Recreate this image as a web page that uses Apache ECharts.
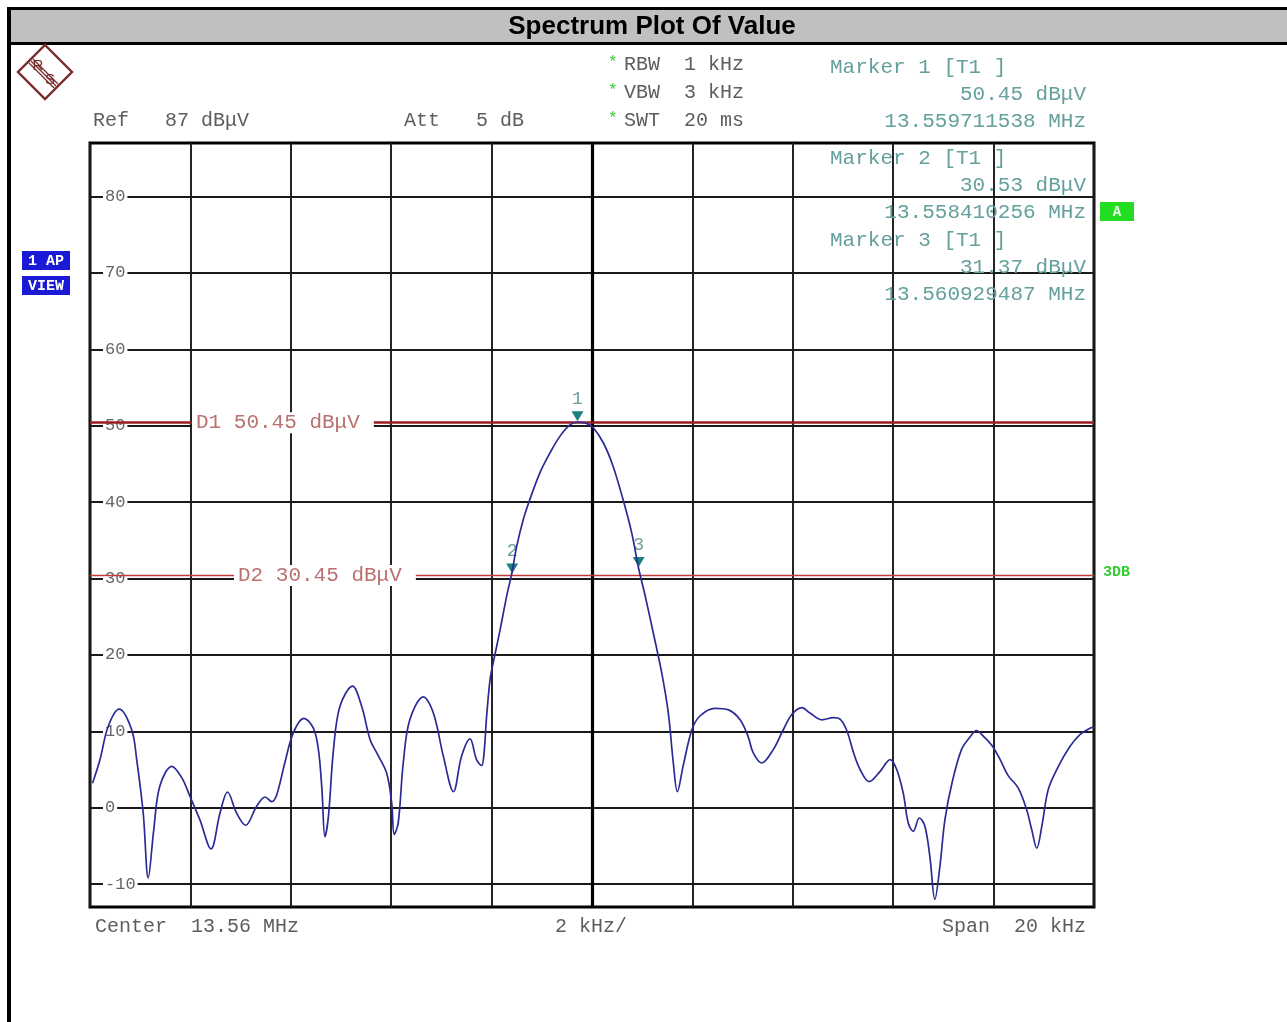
<!DOCTYPE html>
<html>
<head>
<meta charset="utf-8">
<script src="https://cdn.jsdelivr.net/npm/echarts@6/dist/echarts.min.js"></script>
<style>
  html, body { margin: 0; padding: 0; background: #fff; }
  #chart { width: 1287px; height: 1022px; }
</style>
</head>
<body>
<div id="chart"></div>
<script>
// ---- data (frequency offset from 13.56 MHz centre in kHz, level in dBµV) ----
const traceSamples = [
  [-9.95,3.2],[-9.80,6.3],[-9.64,10.6],[-9.42,12.9],[-9.17,10.2],[-9.07,6.3],[-8.94,-0.7],[-8.84,-9.2],
  [-8.73,-2.9],[-8.61,2.8],[-8.37,5.4],[-8.17,3.9],[-8.01,1.5],[-7.81,-1.6],[-7.59,-5.4],[-7.41,-0.7],
  [-7.26,2.05],[-7.08,-0.7],[-6.90,-2.3],[-6.68,0.2],[-6.51,1.4],[-6.38,0.8],[-6.28,1.7],[-6.12,5.85],
  [-5.95,9.8],[-5.74,11.7],[-5.55,10.4],[-5.45,7.6],[-5.38,2.4],[-5.32,-3.8],[-5.25,-1.1],[-5.15,7.6],
  [-5.02,13.3],[-4.77,15.9],[-4.59,13.3],[-4.42,8.9],[-4.29,7.2],[-4.09,4.5],[-3.99,0.6],[-3.94,-3.5],
  [-3.86,-2.0],[-3.76,5.85],[-3.63,11.5],[-3.36,14.5],[-3.16,12.4],[-2.96,6.7],[-2.76,2.1],[-2.60,6.7],
  [-2.43,9.0],[-2.30,6.3],[-2.20,5.5],[-2.15,7.2],[-2.10,11.9],[-2.03,16.8],[-1.97,18.9],[-1.83,23.3],
  [-1.70,27.7],[-1.60,30.6],[-1.50,34.2],[-1.37,37.7],[-1.24,40.3],[-1.04,43.8],[-0.84,46.4],[-0.64,48.6],
  [-0.44,50.1],[-0.29,50.45],[-0.11,50.3],[0.03,49.7],[0.23,47.7],[0.42,44.7],[0.62,40.3],[0.79,36.0],
  [0.93,31.3],[1.06,27.7],[1.22,22.9],[1.39,17.6],[1.52,12.4],[1.62,5.85],[1.70,2.1],[1.82,5.6],
  [1.99,10.2],[2.15,12.0],[2.45,13.0],[2.72,12.8],[2.95,11.5],[3.11,9.3],[3.21,7.2],[3.38,5.85],
  [3.61,7.6],[3.81,10.2],[3.98,12.2],[4.18,13.1],[4.34,12.4],[4.58,11.5],[4.81,11.8],[4.94,11.6],
  [5.07,10.2],[5.21,7.2],[5.34,5.0],[5.52,3.4],[5.74,4.75],[5.94,6.3],[6.07,5.0],[6.20,1.9],
  [6.30,-2.0],[6.40,-3.1],[6.52,-1.35],[6.63,-2.4],[6.73,-6.4],[6.83,-12.0],[6.93,-7.7],[7.03,-1.6],
  [7.17,3.2],[7.36,7.6],[7.53,9.25],[7.66,10.1],[7.79,9.4],[7.96,8.2],[8.13,6.3],[8.29,4.2],
  [8.49,2.6],[8.66,-0.3],[8.76,-2.9],[8.86,-5.3],[8.96,-2.45],[9.09,2.4],[9.29,5.4],[9.52,8.0],
  [9.72,9.55],[9.92,10.4],[10.0,10.6]
];
const centerMHz = 13.56;
const markerNames = ['1', '2', '3'];
const markerFreqMHz = ['13.559711538', '13.558410256', '13.560929487'];
const markerLevels = [50.45, 30.53, 31.37];
const displayLineNames = ['D1', 'D2'];
const displayLineLevels = [50.45, 30.45];
const yTickValues = [80, 70, 60, 50, 40, 30, 20, 10, 0, -10];
const yMin = -13, yMax = 87;   // Ref 87 dBµV, 10 dB/div
const xMin = -10, xMax = 10, xStep = 2; // span 20 kHz, 2 kHz/div

// ---- styling ----
const MONO = '"Liberation Mono", "DejaVu Sans Mono", monospace';
const TXT = '#5e5e5e';
const MK = '#64a09c';
const G = { left: 90, top: 143, width: 1004, height: 764 };

const chart = echarts.init(document.getElementById('chart'), null, { renderer: 'canvas' });

function txt(x, y, s, o) {
  return Object.assign({ type: 'text', x: x, y: y, silent: true, z: 10,
    style: Object.assign({ text: s, fill: TXT, font: '20px ' + MONO, textVerticalAlign: 'middle' }, o || {}) });
}

const markerOffsets = markerFreqMHz.map(f => (parseFloat(f) - centerMHz) * 1000);
const LOGO = '#7a2a2a';

const graphics = [
  // frame
  { type: 'rect', shape: { x: 7, y: 7, width: 1280, height: 3 }, style: { fill: '#000' }, silent: true },
  { type: 'rect', shape: { x: 11, y: 10, width: 1276, height: 32 }, style: { fill: '#c0c0c0' }, silent: true },
  { type: 'rect', shape: { x: 7, y: 42, width: 1280, height: 3 }, style: { fill: '#000' }, silent: true },
  { type: 'rect', shape: { x: 7, y: 7, width: 4, height: 1015 }, style: { fill: '#000' }, silent: true },
  { type: 'text', x: 652, y: 27, silent: true,
    style: { text: 'Spectrum Plot Of Value', font: 'bold 26px "Liberation Sans", Arial, sans-serif',
      fill: '#000', textAlign: 'center', textVerticalAlign: 'middle' } },
  // R&S logo
  { type: 'polygon', shape: { points: [[45, 45], [72, 72], [45, 99], [18, 72]] }, silent: true,
    style: { fill: 'none', stroke: LOGO, lineWidth: 2.4 } },
  { type: 'polyline', shape: { points: [[29, 63], [54, 88]] }, silent: true, style: { stroke: LOGO, lineWidth: 1.3 } },
  { type: 'polyline', shape: { points: [[31, 61], [56, 86]] }, silent: true, style: { stroke: LOGO, lineWidth: 1.3 } },
  { type: 'polyline', shape: { points: [[33, 59], [58, 84]] }, silent: true, style: { stroke: LOGO, lineWidth: 1.3 } },
  txt(38, 66, 'R', { fill: LOGO, font: '15px "Liberation Sans", sans-serif', textAlign: 'center' }),
  txt(50, 80, 'S', { fill: LOGO, font: '15px "Liberation Sans", sans-serif', textAlign: 'center' }),
  // header info
  txt(93, 121, 'Ref   87 dBμV'),
  txt(404, 121, 'Att   5 dB'),
  txt(608, 63, '*', { fill: '#33cc33', font: '16px ' + MONO }),
  txt(608, 91, '*', { fill: '#33cc33', font: '16px ' + MONO }),
  txt(608, 119, '*', { fill: '#33cc33', font: '16px ' + MONO }),
  txt(624, 65, 'RBW  1 kHz'),
  txt(624, 93, 'VBW  3 kHz'),
  txt(624, 121, 'SWT  20 ms'),
  // bottom info
  txt(95, 927, 'Center  ' + centerMHz.toFixed(2) + ' MHz'),
  txt(555, 927, '2 kHz/'),
  txt(1086, 927, 'Span  20 kHz', { textAlign: 'right' }),
  // side boxes
  { type: 'rect', shape: { x: 22, y: 251, width: 48, height: 19 }, style: { fill: '#1a1ad6' }, silent: true },
  { type: 'rect', shape: { x: 22, y: 276, width: 48, height: 19 }, style: { fill: '#1a1ad6' }, silent: true },
  txt(46, 261, '1 AP', { fill: '#fff', font: 'bold 15px ' + MONO, textAlign: 'center' }),
  txt(46, 286, 'VIEW', { fill: '#fff', font: 'bold 15px ' + MONO, textAlign: 'center' }),
  { type: 'rect', shape: { x: 1100, y: 202, width: 34, height: 19 }, style: { fill: '#22dd22' }, silent: true },
  txt(1117, 212, 'A', { fill: '#e8ffe8', font: 'bold 14px ' + MONO, textAlign: 'center' }),
  txt(1103, 572, '3DB', { fill: '#33cc33', font: 'bold 15px ' + MONO })
];

// marker readouts
const markerRowY = [67, 158, 240];
markerNames.forEach((n, i) => {
  const y0 = markerRowY[i];
  graphics.push(txt(830, y0, 'Marker ' + n + ' [T1 ]', { fill: MK, font: '21px ' + MONO }));
  graphics.push(txt(1086, y0 + 27, markerLevels[i].toFixed(2) + ' dBμV', { fill: MK, font: '21px ' + MONO, textAlign: 'right' }));
  graphics.push(txt(1086, y0 + 54, markerFreqMHz[i] + ' MHz', { fill: MK, font: '21px ' + MONO, textAlign: 'right' }));
});

const dLineStyles = [
  { color: '#9a1c1c', width: 2.6, labelDx: 102 },
  { color: '#c23a3a', width: 1.3, labelDx: 144 }
];

const option = {
  animation: false,
  backgroundColor: '#fff',
  grid: { left: G.left, top: G.top, width: G.width, height: G.height, show: true,
    borderColor: '#000', borderWidth: 3, backgroundColor: 'transparent' },
  xAxis: {
    type: 'value', min: xMin, max: xMax, interval: xStep,
    axisLine: { show: false }, axisTick: { show: false }, axisLabel: { show: false },
    splitLine: { show: true, lineStyle: { color: '#1a1a1a', width: 1.9 } }
  },
  yAxis: {
    type: 'value', min: yMin, max: yMax,
    axisLine: { show: false },
    axisTick: { show: false, customValues: yTickValues },
    axisLabel: { show: true, inside: true, customValues: yTickValues, margin: 13,
      color: '#666', fontFamily: MONO, fontSize: 17,
      backgroundColor: '#fff', padding: [0, 2, 0, 2] },
    splitLine: { show: true, lineStyle: { color: '#1a1a1a', width: 1.9 } }
  },
  graphic: graphics,
  series: [
    {
      type: 'line',
      data: traceSamples,
      showSymbol: false,
      smooth: 0.35,
      lineStyle: { color: '#2b2b96', width: 1.7 },
      z: 5,
      markLine: {
        silent: true, symbol: 'none', animation: false,
        data: [
          { xAxis: 0, lineStyle: { color: '#000', width: 3.2, type: 'solid' }, label: { show: false } }
        ].concat(displayLineNames.map((n, i) => ({
          yAxis: displayLineLevels[i],
          lineStyle: { color: dLineStyles[i].color, width: dLineStyles[i].width, type: 'solid' },
          label: {
            show: true, position: 'insideStartTop', distance: [dLineStyles[i].labelDx, -11],
            formatter: n + ' ' + displayLineLevels[i].toFixed(2) + ' dBμV',
            color: '#bb7070', fontFamily: MONO, fontSize: 21,
            backgroundColor: '#fff', padding: [0, 14, 0, 4]
          }
        })))
      },
      markPoint: {
        silent: true, animation: false,
        symbol: 'path://M0,0 L12,0 L6,10 Z',
        symbolSize: [12, 10],
        symbolOffset: [0, -6],
        itemStyle: { color: '#1f8080' },
        label: { show: true, position: 'top', distance: 3, color: MK, fontFamily: MONO, fontSize: 18,
          formatter: p => p.name },
        data: markerNames.map((n, i) => ({ name: n, coord: [markerOffsets[i], markerLevels[i]] }))
      }
    }
  ]
};

chart.setOption(option);
</script>
</body>
</html>
